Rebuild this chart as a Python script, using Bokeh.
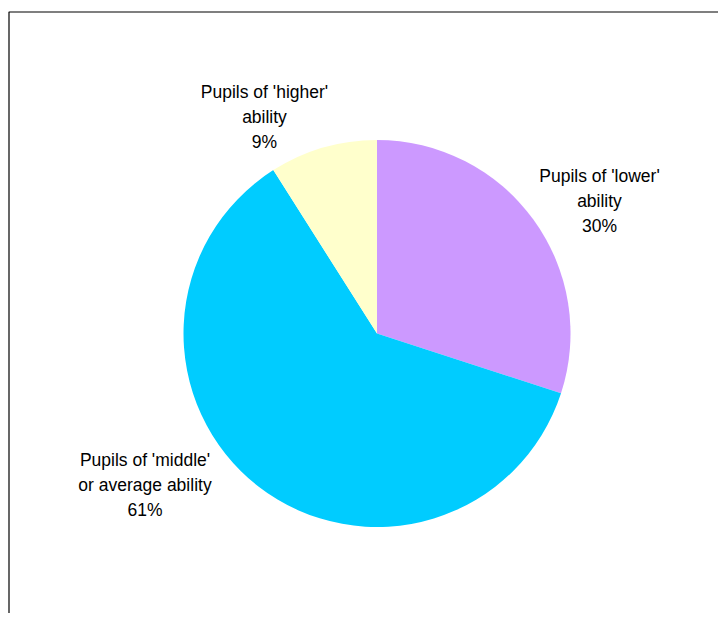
import math
from bokeh.plotting import figure
from bokeh.models import ColumnDataSource, Range1d
from bokeh.core.properties import value
from bokeh.embed import file_html
from bokeh.resources import INLINE

# ---- data ----
categories = ["Pupils of 'lower' ability", "Pupils of 'middle' or average ability", "Pupils of 'higher' ability"]
label_lines = [["Pupils of 'lower'", "ability"], ["Pupils of 'middle'", "or average ability"], ["Pupils of 'higher'", "ability"]]
shares = [30, 61, 9]
colors = ["#CC99FF", "#00CCFF", "#FFFFCC"]

# ---- layout (screen pixels) ----
W, H = 718, 613
def px(x):
    return x
def py(y):
    return H - y

cx, cy, r = px(376.5), py(333), 193.5
label_anchor = [(599, 175), (144.5, 459.3), (264, 91.7)]  # centre x, first baseline
line_gap = 25

p = figure(width=W, height=H, output_backend="svg", toolbar_location=None,
           x_range=Range1d(0, W), y_range=Range1d(0, H), min_border=0,
           outline_line_color=None)
p.axis.visible = False
p.grid.visible = False
p.background_fill_color = "white"
p.border_fill_color = "white"

total = sum(shares)
starts, ends = [], []
a = math.pi / 2
for s in shares:
    b = a - 2 * math.pi * s / total
    starts.append(a)
    ends.append(b)
    a = b
src = ColumnDataSource(dict(start=starts, end=ends, color=colors, cat=categories))
p.wedge(x=cx, y=cy, radius=r, start_angle="start", end_angle="end", direction="clock",
        fill_color="color", line_color=None, source=src)

tx, ty, tt = [], [], []
for (ax, ay), lines, s in zip(label_anchor, label_lines, shares):
    for i, t in enumerate(lines + [f"{s}%"]):
        tx.append(px(ax))
        ty.append(py(ay + i * line_gap))
        tt.append(t)
p.text(x=tx, y=ty, text=tt, text_align="center", text_baseline="alphabetic",
       text_font=value("Liberation Sans"), text_font_size="17.5px", text_color="#000000")

# chart border (left and top edges visible)
p.line(x=[8.5, 8.5, W + 10], y=[-10, py(11.5), py(11.5)], line_color="black", line_width=1.2)

open("out.html", "w").write(file_html(p, INLINE))
